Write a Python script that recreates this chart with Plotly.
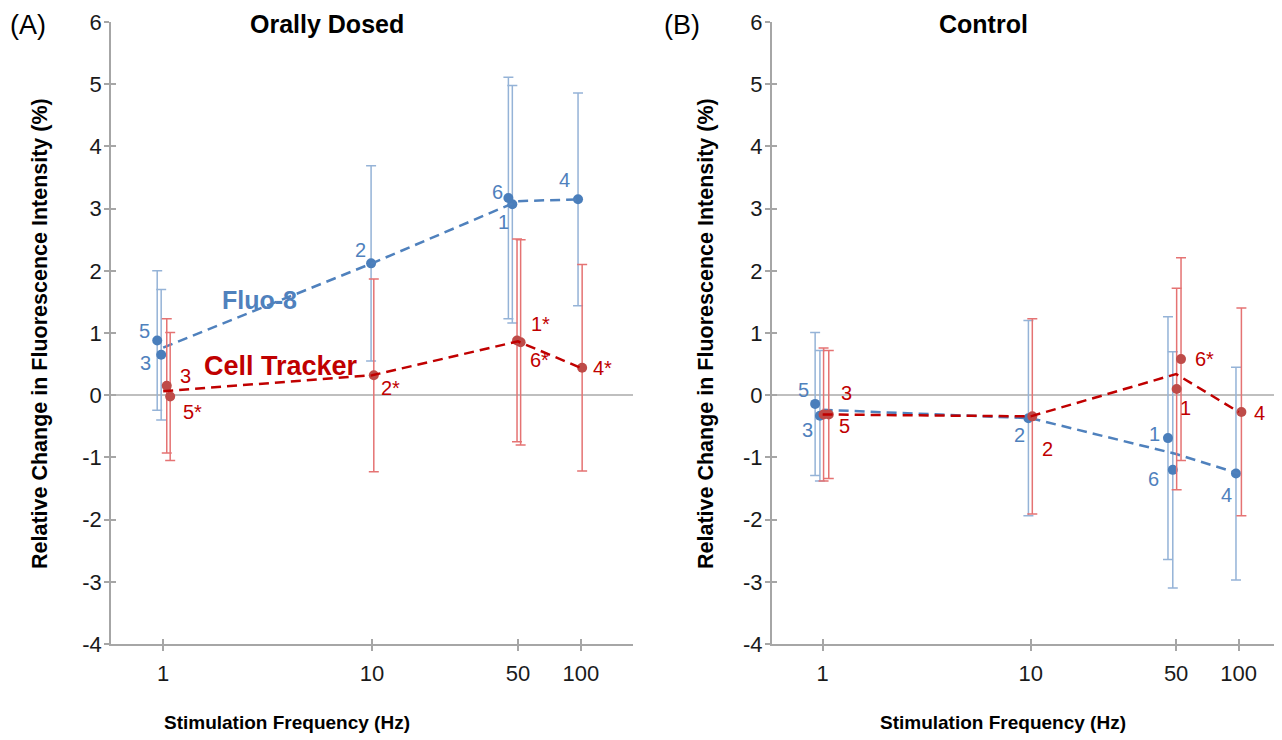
import plotly.graph_objects as go
import numpy as np

# ---------------- data ----------------
FREQ_TICKS = [1, 10, 50, 100]
TICK_TEXT = ["1", "10", "50", "100"]
Y_TICKS = [-4, -3, -2, -1, 0, 1, 2, 3, 4, 5, 6]
Y_TICK_TEXT = ["-4", "-3", "-2", "-1", "0", "1", "2", "3", "4", "5", "6"]

# Panel A - Orally Dosed
A_fluo_freq = [1, 1, 10, 50, 50, 100]
A_fluo_val = [0.88, 0.65, 2.12, 3.17, 3.07, 3.15]
A_fluo_err = [1.12, 1.05, 1.57, 1.94, 1.91, 1.71]
A_fluo_lab = ["5", "3", "2", "6", "1", "4"]

A_ct_freq = [1, 1, 10, 50, 50, 100]
A_ct_val = [0.15, -0.02, 0.32, 0.88, 0.85, 0.44]
A_ct_err = [1.08, 1.03, 1.55, 1.63, 1.65, 1.66]
A_ct_lab = ["3", "5*", "2*", "1*", "6*", "4*"]

# Panel B - Control
B_fluo_freq = [1, 1, 10, 50, 50, 100]
B_fluo_val = [-0.14, -0.33, -0.37, -0.69, -1.20, -1.26]
B_fluo_err = [1.15, 1.05, 1.57, 1.95, 1.90, 1.71]
B_fluo_lab = ["5", "3", "2", "1", "6", "4"]

B_ct_freq = [1, 1, 10, 50, 50, 100]
B_ct_val = [-0.31, -0.31, -0.34, 0.10, 0.58, -0.27]
B_ct_err = [1.07, 1.03, 1.57, 1.62, 1.63, 1.67]
B_ct_lab = ["3", "5", "2", "1", "6*", "4"]

# ---------------- style ----------------
PAGE_OFF = 8  # default body margin of the html page
W, H = 1282 - PAGE_OFF, 740 - PAGE_OFF
FONT = "Liberation Sans, Arial, sans-serif"
BLUE_M, BLUE_L, BLUE_E, BLUE_T = "#4a7ebb", "#4f81bd", "#95b3d7", "#4f81bd"
RED_M, RED_L, RED_E, RED_T = "#be4b48", "#c00000", "#e57373", "#c00000"
AX = "#a6a6a6"
DASH = "10px,6px"


def px(x):
    return (x - PAGE_OFF) / W


def py(y):
    return 1 - (y - PAGE_OFF) / H


# horizontal jitter factors (multiplicative on frequency) to separate overlapping points
A_fluo_jit = [0.936, 0.978, 0.99, 0.90, 0.94, 0.97]
A_ct_jit = [1.04, 1.08, 1.02, 0.99, 1.03, 1.015]
B_fluo_jit = [0.92, 0.97, 0.975, 0.914, 0.964, 0.97]
B_ct_jit = [1.01, 1.07, 1.018, 1.006, 1.056, 1.03]

# label pixel offsets (xshift, yshift)
A_fluo_off = [(-13, 9), (-16, -8), (-11, 13), (-11, 6), (-9, -18), (-14, 19)]
A_ct_off = [(19, 10), (22, -16), (17, -13), (23, 16), (19, -18), (20, 0)]
B_fluo_off = [(-12, 14), (-12, -14), (-9, -17), (-13, 4), (-19, -9), (-9, -21)]
B_ct_off = [(23, 21), (16, -12), (15, -33), (9, -19), (23, 0), (18, -1)]

fig = go.Figure()
annotations = []


def add_series(freq, val, err, lab, jit, off, xa, ya, mcol, lcol, ecol, tcol):
    x = [f * j for f, j in zip(freq, jit)]
    # mean line over nominal frequencies
    uf = sorted(set(freq))
    means = [np.mean([v for f, v in zip(freq, val) if f == u]) for u in uf]
    fig.add_trace(go.Scatter(
        x=x, y=val, mode="markers", xaxis=xa, yaxis=ya,
        marker=dict(color=mcol, size=10),
        error_y=dict(type="data", array=err, visible=True, color=ecol,
                     thickness=1.5, width=5),
        showlegend=False))
    fig.add_trace(go.Scatter(
        x=uf, y=means, mode="lines", xaxis=xa, yaxis=ya,
        line=dict(color=lcol, width=2.5, dash=DASH), showlegend=False))
    for xi, yi, t, (dx, dy) in zip(x, val, lab, off):
        annotations.append(dict(
            x=np.log10(xi), y=yi, xref=xa, yref=ya, text=t, showarrow=False,
            xshift=dx, yshift=dy, font=dict(family=FONT, size=20, color=tcol)))


add_series(A_fluo_freq, A_fluo_val, A_fluo_err, A_fluo_lab, A_fluo_jit, A_fluo_off,
           "x", "y", BLUE_M, BLUE_L, BLUE_E, BLUE_T)
add_series(A_ct_freq, A_ct_val, A_ct_err, A_ct_lab, A_ct_jit, A_ct_off,
           "x", "y", RED_M, RED_L, RED_E, RED_T)
add_series(B_fluo_freq, B_fluo_val, B_fluo_err, B_fluo_lab, B_fluo_jit, B_fluo_off,
           "x2", "y2", BLUE_M, BLUE_L, BLUE_E, BLUE_T)
add_series(B_ct_freq, B_ct_val, B_ct_err, B_ct_lab, B_ct_jit, B_ct_off,
           "x2", "y2", RED_M, RED_L, RED_E, RED_T)

# empty traces so that the inward-tick overlay axes are drawn (cross-style ticks)
for xa, ya in [("x3", "y"), ("x", "y3"), ("x4", "y2"), ("x2", "y4")]:
    fig.add_trace(go.Scatter(x=[], y=[], xaxis=xa, yaxis=ya, showlegend=False,
                             hoverinfo="skip"))

ydom = [py(644), py(22)]
tickfont = dict(family=FONT, size=22, color="#1a1a1a")

xcommon = dict(type="log", tickvals=FREQ_TICKS, ticktext=TICK_TEXT,
               showgrid=False, zeroline=False, showline=True, linecolor=AX,
               linewidth=1.5, ticks="outside", ticklen=5, tickcolor=AX,
               tickwidth=1.5, tickfont=tickfont, ticklabelstandoff=4,
               automargin=False)
ycommon = dict(range=[-4, 6], tickvals=Y_TICKS, ticktext=Y_TICK_TEXT,
               showgrid=False, zeroline=True,
               zerolinecolor="#bfbfbf", zerolinewidth=1.5, showline=True,
               linecolor=AX, linewidth=1.5, ticks="outside", ticklen=5,
               tickcolor=AX, tickwidth=1.5, tickfont=tickfont,
               ticklabelstandoff=-2, domain=ydom, automargin=False)
xin = dict(type="log", tickvals=FREQ_TICKS, showticklabels=False, showgrid=False,
           zeroline=False, showline=False, ticks="inside", ticklen=5,
           tickcolor=AX, tickwidth=1.5, automargin=False)
yin = dict(range=[-4, 6], tickvals=Y_TICKS, showticklabels=False, showgrid=False,
           zeroline=False, showline=False, ticks="inside", ticklen=5,
           tickcolor=AX, tickwidth=1.5, automargin=False)

XA_DOM, XA_RNG = [px(111), px(633)], [-0.25, 2.25]
XB_DOM, XB_RNG = [px(771.7), 1.0], [-0.245, 2.208]

fig.update_layout(
    width=W, height=H, margin=dict(l=0, r=0, t=0, b=0, autoexpand=False),
    paper_bgcolor="white", plot_bgcolor="white",
    xaxis={**xcommon, "domain": XA_DOM, "range": XA_RNG, "anchor": "y"},
    yaxis={**ycommon, "anchor": "x"},
    xaxis2={**xcommon, "domain": XB_DOM, "range": XB_RNG, "anchor": "y2"},
    yaxis2={**ycommon, "anchor": "x2"},
    xaxis3={**xin, "domain": XA_DOM, "range": XA_RNG, "anchor": "y", "overlaying": "x"},
    yaxis3={**yin, "domain": ydom, "anchor": "x", "overlaying": "y"},
    xaxis4={**xin, "domain": XB_DOM, "range": XB_RNG, "anchor": "y2", "overlaying": "x2"},
    yaxis4={**yin, "domain": ydom, "anchor": "x2", "overlaying": "y2"},
)

ytitle = "Relative Change in Fluorescence Intensity (%)"
xtitle = "Stimulation Frequency (Hz)"
extra = [
    dict(x=px(28), y=py(25), text="(A)", font=dict(family=FONT, size=27, color="black")),
    dict(x=px(682), y=py(25), text="(B)", font=dict(family=FONT, size=27, color="black")),
    dict(x=px(327), y=py(24), text="<b>Orally Dosed</b>", font=dict(family=FONT, size=25, color="black")),
    dict(x=px(983), y=py(24), text="<b>Control</b>", font=dict(family=FONT, size=25, color="black")),
    dict(x=px(40), y=py(334), text="<b>" + ytitle + "</b>", textangle=-90,
         font=dict(family=FONT, size=21.5, color="black")),
    dict(x=px(706), y=py(334), text="<b>" + ytitle + "</b>", textangle=-90,
         font=dict(family=FONT, size=21.5, color="black")),
    dict(x=px(287), y=py(722), text="<b>" + xtitle + "</b>", font=dict(family=FONT, size=19, color="black")),
    dict(x=px(1003), y=py(722), text="<b>" + xtitle + "</b>", font=dict(family=FONT, size=19, color="black")),
    dict(x=px(259), y=py(300), text="<b>Fluo-8</b>", font=dict(family=FONT, size=25, color=BLUE_T)),
    dict(x=px(281), y=py(366), text="<b>Cell Tracker</b>", font=dict(family=FONT, size=27, color=RED_T)),
]
for a in extra:
    a.update(xref="paper", yref="paper", showarrow=False, xanchor="center",
             yanchor="middle", borderpad=0)
    annotations.append(a)

fig.update_layout(annotations=annotations)
fig.write_html("out.html")
